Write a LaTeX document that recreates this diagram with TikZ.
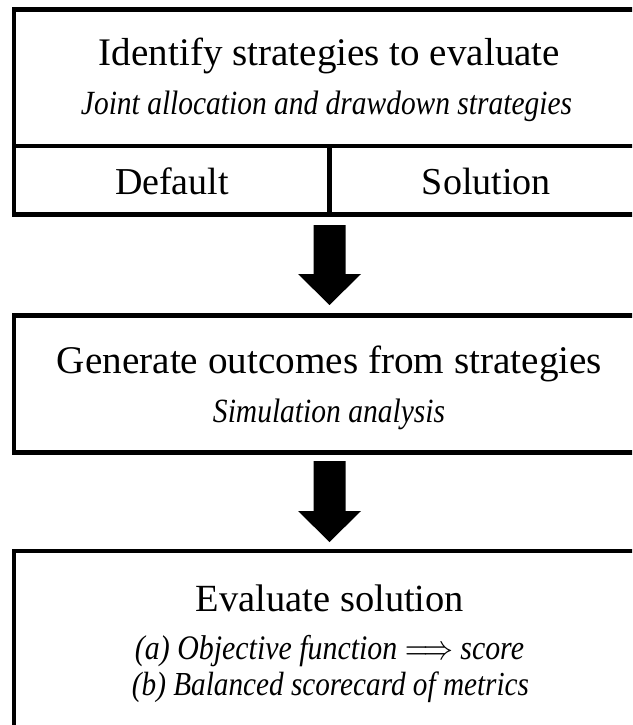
\documentclass[tikz,border=0pt]{standalone}
\usepackage{fontspec}
\setmainfont{Liberation Serif}
\usetikzlibrary{calc}
\newcommand{\fitto}[2]{\resizebox{#1}{!}{#2}}
\newcommand{\fitit}[2]{\scalebox{1}[1.15]{\resizebox{#1}{!}{\itshape #2}}}
\begin{document}
\begin{tikzpicture}[x=1pt,y=-1pt,
  frame/.style={draw=black, line width=4.5pt, fill=none, inner sep=0pt, outer sep=0pt, anchor=north west},
  rule/.style={draw=black, line width=4.5pt},
  ttl/.style={anchor=base, inner sep=0pt},
  sub/.style={anchor=base, inner sep=0pt, font=\itshape},
  fatarrow/.style={fill=black}]
\useasboundingbox (0,0) rectangle (632,725);
\clip (0,0) rectangle (632,725);
\fill[white] (0,0) rectangle (632,725);
% boxes
\node[frame, minimum width=631pt, minimum height=205pt] (box1) at (14,9.5) {};
\node[frame, minimum width=631pt, minimum height=137pt] (box2) at (14,315.5) {};
\node[frame, minimum width=631pt, minimum height=300pt] (box3) at (14,551) {};
% table row in box 1
\coordinate (divL) at (14,146);
\coordinate (divR) at (645,146);
\coordinate (divM) at (329.5,146);
\draw[rule] (divL) -- (divR);
\draw[rule] (divM) -- (divM |- box1.south);
% texts
\node[ttl] (t1) at (329.5,66) {\fitto{461pt}{Identify strategies to evaluate}};
\node[sub] (s1) at (326.5,114) {\fitit{491pt}{Joint allocation and drawdown strategies}};
\node[ttl] (def) at (172,194) {\fitto{114pt}{Default}};
\node[ttl] (sol) at (486.5,194) {\fitto{129pt}{Solution}};
\node[ttl] (t2) at (329.5,373) {\fitto{545pt}{Generate outcomes from strategies}};
\node[sub] (s2) at (329,422.5) {\fitit{232pt}{Simulation analysis}};
\node[ttl] (t3) at (330,611) {\fitto{268pt}{Evaluate solution}};
\node[sub] (s3a) at (329.5,659) {\fitit{389pt}{(a) Objective function $\Longrightarrow$ score}};
\node[sub] (s3b) at (330.5,695) {\fitit{397pt}{(b) Balanced scorecard of metrics}};
% fat arrows
\coordinate (a1t) at ($(box1.south)+(0,10.5)$);
\coordinate (a1p) at ($(box2.north)+(0,-10.5)$);
\coordinate (a2t) at ($(box2.south)+(0,8.5)$);
\coordinate (a2p) at ($(box3.north)+(0,-9)$);
\fill[fatarrow] let \p1=(a1t), \p2=(a1p) in
  (\x1-16pt,\y1) -- (\x1+16pt,\y1) -- (\x1+16pt,\y2+31pt) -- (\x1+31.5pt,\y2+31pt)
  -- (\p2) -- (\x1-31.5pt,\y2+31pt) -- (\x1-16pt,\y2+31pt) -- cycle;
\fill[fatarrow] let \p1=(a2t), \p2=(a2p) in
  (\x1-16pt,\y1) -- (\x1+16pt,\y1) -- (\x1+16pt,\y2+31pt) -- (\x1+31.5pt,\y2+31pt)
  -- (\p2) -- (\x1-31.5pt,\y2+31pt) -- (\x1-16pt,\y2+31pt) -- cycle;
\end{tikzpicture}
\end{document}
